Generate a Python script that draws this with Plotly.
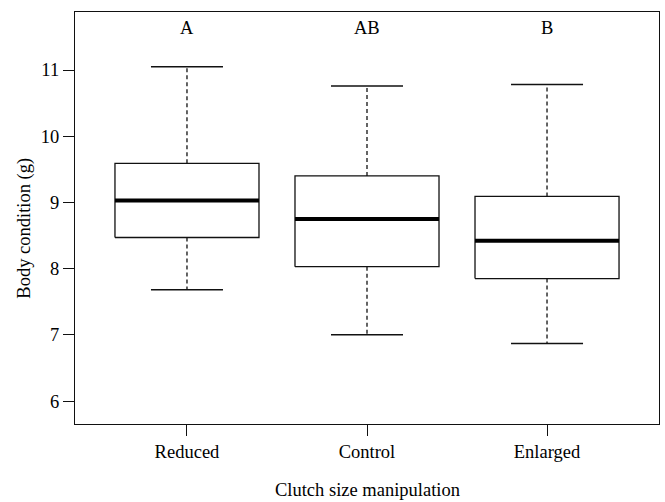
import plotly.graph_objects as go

categories = ["Reduced", "Control", "Enlarged"]
lower_whisker = [7.68, 7.00, 6.87]
q1 = [8.47, 8.03, 7.85]
median = [9.03, 8.75, 8.42]
q3 = [9.59, 9.40, 9.09]
upper_whisker = [11.05, 10.76, 10.78]
letters = ["A", "AB", "B"]
letter_y = 11.63

FONT = "Liberation Serif, Times New Roman, serif"
FS = 18.5
BOXW = 0.4   # half box width
CAPW = 0.2   # half cap width
INK = "#111111"

positions = [i + 1 for i in range(len(categories))]

wx, wy, cx, cy, mx, my = [], [], [], [], [], []
for x, lw, a, m, b, uw in zip(positions, lower_whisker, q1, median, q3, upper_whisker):
    wx += [x, x, None, x, x, None]
    wy += [b, uw, None, a, lw, None]
    cx += [x - CAPW, x + CAPW, None, x - CAPW, x + CAPW, None]
    cy += [uw, uw, None, lw, lw, None]
    mx += [x - BOXW, x + BOXW, None]
    my += [m, m, None]

fig = go.Figure()
fig.add_trace(go.Scatter(x=wx, y=wy, mode="lines", line=dict(color=INK, width=1.3, dash="4px,3px"),
                         hoverinfo="skip", showlegend=False))
fig.add_trace(go.Scatter(x=cx, y=cy, mode="lines", line=dict(color=INK, width=1.5),
                         hoverinfo="skip", showlegend=False))
for x, a, b in zip(positions, q1, q3):
    fig.add_trace(go.Scatter(x=[x - BOXW, x + BOXW, x + BOXW, x - BOXW, x - BOXW],
                             y=[a, a, b, b, a], mode="lines", fill="toself",
                             fillcolor="white", line=dict(color=INK, width=1.3),
                             hoverinfo="skip", showlegend=False))
fig.add_trace(go.Scatter(x=mx, y=my, mode="lines", line=dict(color="black", width=4),
                         hoverinfo="skip", showlegend=False))

for x, t in zip(positions, letters):
    fig.add_annotation(x=x, y=letter_y, text=t, showarrow=False, xref="x", yref="y",
                       font=dict(family=FONT, size=FS, color="black"))

fig.add_annotation(x=-0.086, y=0.476, xref="paper", yref="paper", text="Body condition (g)",
                   textangle=-90, showarrow=False, xanchor="center", yanchor="middle",
                   font=dict(family=FONT, size=FS, color="black"))
fig.add_annotation(x=0.501, y=-0.16, xref="paper", yref="paper", text="Clutch size manipulation",
                   showarrow=False, xanchor="center", yanchor="middle",
                   font=dict(family=FONT, size=FS, color="black"))

axis_common = dict(showgrid=False, zeroline=False, showline=True, mirror=True,
                   linecolor=INK, linewidth=1.3, ticks="outside", ticklen=11,
                   tickwidth=1.3, tickcolor=INK,
                   tickfont=dict(family=FONT, size=FS, color="black"))

fig.update_layout(
    width=665, height=502,
    margin=dict(l=75, r=6, t=12, b=78),
    paper_bgcolor="white", plot_bgcolor="white",
    xaxis=dict(range=[0.378, 3.622], tickvals=positions, ticktext=categories, **axis_common),
    yaxis=dict(range=[5.653, 11.876], tick0=0, dtick=1, **axis_common),
    showlegend=False,
)

fig.write_html("out.html", config={"displayModeBar": False},
               post_script="document.body.style.margin='0';document.body.style.padding='0';document.body.style.overflow='hidden';")
